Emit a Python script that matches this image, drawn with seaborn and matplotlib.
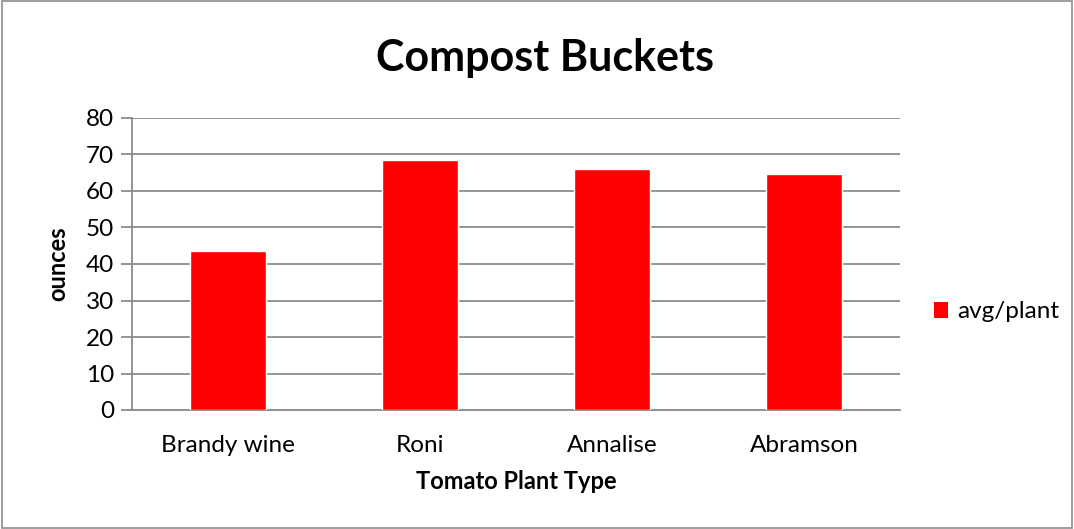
import matplotlib
matplotlib.use("Agg")
import matplotlib.pyplot as plt
import seaborn as sns
import pandas as pd
from matplotlib.patches import Rectangle, Patch

categories = ["Brandy wine", "Roni", "Annalise", "Abramson"]
values = [43.5, 68.5, 66.0, 64.6]
series_name = "avg/plant"
yticks = [0, 10, 20, 30, 40, 50, 60, 70, 80]

sns.set_theme(style="white")
plt.rcParams['font.family'] = ['Lato', 'DejaVu Sans']
plt.rcParams['text.color'] = 'black'
plt.rcParams['axes.labelcolor'] = 'black'
plt.rcParams['xtick.color'] = 'black'
plt.rcParams['ytick.color'] = 'black'

df = pd.DataFrame({"type": categories, "val": values})

fig = plt.figure(figsize=(10.74, 5.29), dpi=100)
ax = fig.add_axes([132/1074, 1-410/529, (900-132)/1074, (410-118)/529])

sns.barplot(data=df, x="type", y="val", color="#ff0000", saturation=1, width=0.40, ax=ax, zorder=3)

ax.set_ylim(0, 80)
ax.set_yticks(yticks)
ax.set_xlim(-0.5, 3.5)
ax.yaxis.grid(True, color="#8c8c8c", linewidth=1.3, zorder=0)
ax.set_axisbelow(True)
for s in ["top", "right"]:
    ax.spines[s].set_visible(False)
ax.spines["left"].set_color("#8c8c8c")
ax.spines["bottom"].set_color("#8c8c8c")
ax.spines["left"].set_linewidth(1.3)
ax.spines["bottom"].set_linewidth(1.3)
ax.tick_params(axis="y", which="both", left=True, length=8, width=1.3, color="#8c8c8c", labelcolor="black", labelsize=17.5, pad=5)
ax.tick_params(axis="x", bottom=False, labelsize=17.5, labelcolor="black", pad=12)

ax.set_xlabel("Tomato Plant Type", fontsize=17, fontweight="bold", labelpad=10, color="black")
ax.set_ylabel("ounces", fontsize=17, fontweight="bold", labelpad=12, color="black")

fig.text(545/1074, 1-58/529, "Compost Buckets", ha="center", va="center", fontsize=31, fontweight="bold", color="black")

leg = fig.legend(handles=[Patch(facecolor="#ff0000", edgecolor="none", label=series_name)],
                 loc="center left", bbox_to_anchor=(912/1074, 1-312/529), frameon=False,
                 fontsize=17.5, handlelength=0.6, handleheight=0.6, handletextpad=0.35)
for t in leg.get_texts():
    t.set_color("black")

fig.patches.append(Rectangle((0.002, 0.002), 0.996, 0.996, transform=fig.transFigure,
                             fill=False, edgecolor="#8c8c8c", linewidth=1.2))

fig.savefig("out.png", dpi=100)
